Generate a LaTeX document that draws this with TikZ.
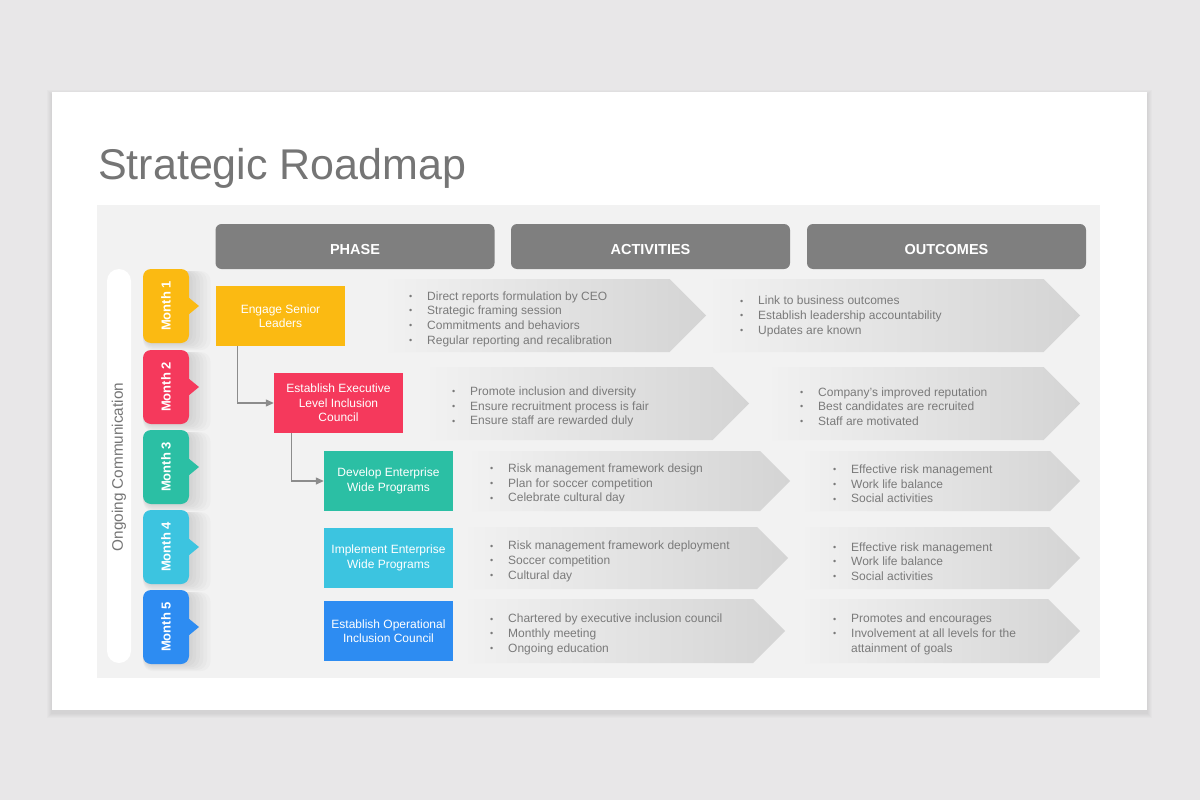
\documentclass[tikz,border=0pt]{standalone}
\usepackage{fontspec}
\setmainfont{Liberation Sans}
\usetikzlibrary{arrows.meta}
\definecolor{bgGray}{HTML}{E8E7E8}
\definecolor{panelGray}{HTML}{F2F2F2}
\definecolor{hdrGray}{HTML}{7F7F7F}
\definecolor{titleGray}{HTML}{757575}
\definecolor{txtGray}{HTML}{7A7A7A}
\definecolor{lnGray}{HTML}{8C8C8C}
\definecolor{chevL}{HTML}{F1F1F1}
\definecolor{chevR}{HTML}{D4D4D4}
\definecolor{cYellow}{HTML}{FBBA12}
\definecolor{cRed}{HTML}{F5395C}
\definecolor{cTeal}{HTML}{2BBFA4}
\definecolor{cCyan}{HTML}{3CC4E0}
\definecolor{cBlue}{HTML}{2D8CF2}
\newcommand{\itm}{\makebox[18pt][l]{\raisebox{0.8pt}{\fontsize{9}{9}\selectfont\textbullet}}}
\newcommand{\gap}{\hspace*{18pt}}
% chevron: x left, x right, y top, y bottom
\newcommand{\chev}[4]{
	\shade[chev] (#1,#3) -- ({#2-(#4-#3)/2},#3) -- (#2,{(#3+#4)/2}) -- ({#2-(#4-#3)/2},#4) -- (#1,#4) -- cycle;
}
\tikzset{
	hdr/.style={fill=hdrGray, rounded corners=6, minimum width=279, minimum height=45, text height=15, text depth=0, text=white, font=\fontsize{14.5}{17}\selectfont\bfseries},
	phase/.style={minimum width=129, minimum height=60, inner sep=0, text=white, align=center, font=\fontsize{12}{14.5}\selectfont},
	list/.style={anchor=west, inner sep=0, align=left, text=txtGray, font=\fontsize{12}{14.7}\selectfont},
	link/.style={draw=lnGray, line width=1.3, -{Triangle[length=8,width=7]}},
	chev/.style={left color=chevL, right color=chevR},
	tab/.style={text=white, rotate=90, inner sep=0, font=\fontsize{13}{15}\selectfont\bfseries}
}

\begin{document}
\begin{tikzpicture}[x=1pt, y=-1pt]
	\useasboundingbox (0,0) rectangle (1200,800);
	\fill[bgGray] (0,0) rectangle (1200,800);
	% card with soft shadow
	\foreach \s in {1,...,5}{
		\fill[black, opacity=0.015] (52-\s,92-\s+3) rectangle (1147+\s,710+\s+3);
	}
	\fill[white] (52,92) rectangle (1147,710);
	\node[anchor=base west, inner sep=0, text=titleGray, font=\fontsize{43}{50}\selectfont] (title) at (98,179) {Strategic Roadmap};
	\fill[panelGray] (97,205) rectangle (1100,678);

	% column headers
	\node[hdr] (hPhase) at (355,246.5) {PHASE};
	\node[hdr] (hAct) at (650.5,246.5) {ACTIVITIES};
	\node[hdr] (hOut) at (946.5,246.5) {OUTCOMES};

	% ongoing communication bar
	\fill[white, rounded corners=12] (107,269) rectangle (131,663);
	\node[rotate=90, text=titleGray, font=\fontsize{15.3}{18}\selectfont] (ongoing) at (119,467) {Ongoing Communication};

	% month tabs
	\foreach \n/\c/\y in {1/cYellow/269, 2/cRed/350, 3/cTeal/430, 4/cCyan/510, 5/cBlue/590}{
		\foreach \s in {2,4,...,12}{
			\fill[black, opacity=0.018, rounded corners=10] (143,\y+2) rectangle (189+\s*1.8,\y+74+\s*0.6);
		}
		\fill[\c, rounded corners=8] (143,\y) rectangle (189,\y+74);
		\fill[\c] (188,\y+28) -- (199,\y+37) -- (188,\y+46) -- cycle;
		\node[tab] (month\n) at (166,\y+37) {Month \n};
	}

	% activity and outcome chevrons
	\chev{388}{706}{279}{352}
	\chev{713}{1080}{279}{352}
	\chev{430}{749}{367}{440}
	\chev{772}{1080}{367}{440}
	\chev{472}{790}{451}{511}
	\chev{805}{1080}{451}{511}
	\chev{468}{788}{527}{589}
	\chev{805}{1080}{527}{589}
	\chev{468}{785}{599}{663}
	\chev{805}{1080}{599}{663}

	% phases
	\node[phase, fill=cYellow] (engage) at (280.5,316) {Engage Senior\\Leaders};
	\node[phase, fill=cRed] (exec) at (338.5,403) {Establish Executive\\Level Inclusion\\Council};
	\node[phase, fill=cTeal] (develop) at (388.5,481) {Develop Enterprise\\Wide Programs};
	\node[phase, fill=cCyan] (implement) at (388.5,558) {Implement Enterprise\\Wide Programs};
	\node[phase, fill=cBlue] (operational) at (388.5,631) {Establish Operational\\Inclusion Council};

	\draw[link] ([xshift=22]engage.south west) |- (exec.west);
	\draw[link] ([xshift=18]exec.south west) |- (develop.west);

	% lists
	\node[list] (act1) at (409,319) {\itm Direct reports formulation by CEO\\\itm Strategic framing session\\\itm Commitments and behaviors\\\itm Regular reporting and recalibration};
	\node[list] (out1) at (740,316.5) {\itm Link to business outcomes\\\itm Establish leadership accountability\\\itm Updates are known};
	\node[list] (act2) at (452,407) {\itm Promote inclusion and diversity\\\itm Ensure recruitment process is fair\\\itm Ensure staff are rewarded duly};
	\node[list] (out2) at (800,406.5) {\itm Company's improved reputation\\\itm Best candidates are recruited\\\itm Staff are motivated};
	\node[list] (act3) at (490,484) {\itm Risk management framework design\\\itm Plan for soccer competition\\\itm Celebrate cultural day};
	\node[list] (out3) at (833,484) {\itm Effective risk management\\\itm Work life balance\\\itm Social activities};
	\node[list] (act4) at (490,561.5) {\itm Risk management framework deployment\\\itm Soccer competition\\\itm Cultural day};
	\node[list] (out4) at (833,561.5) {\itm Effective risk management\\\itm Work life balance\\\itm Social activities};
	\node[list] (act5) at (490,634.5) {\itm Chartered by executive inclusion council\\\itm Monthly meeting\\\itm Ongoing education};
	\node[list] (out5) at (833,634.5) {\itm Promotes and encourages\\\itm Involvement at all levels for the\\\gap attainment of goals};
\end{tikzpicture}
\end{document}
